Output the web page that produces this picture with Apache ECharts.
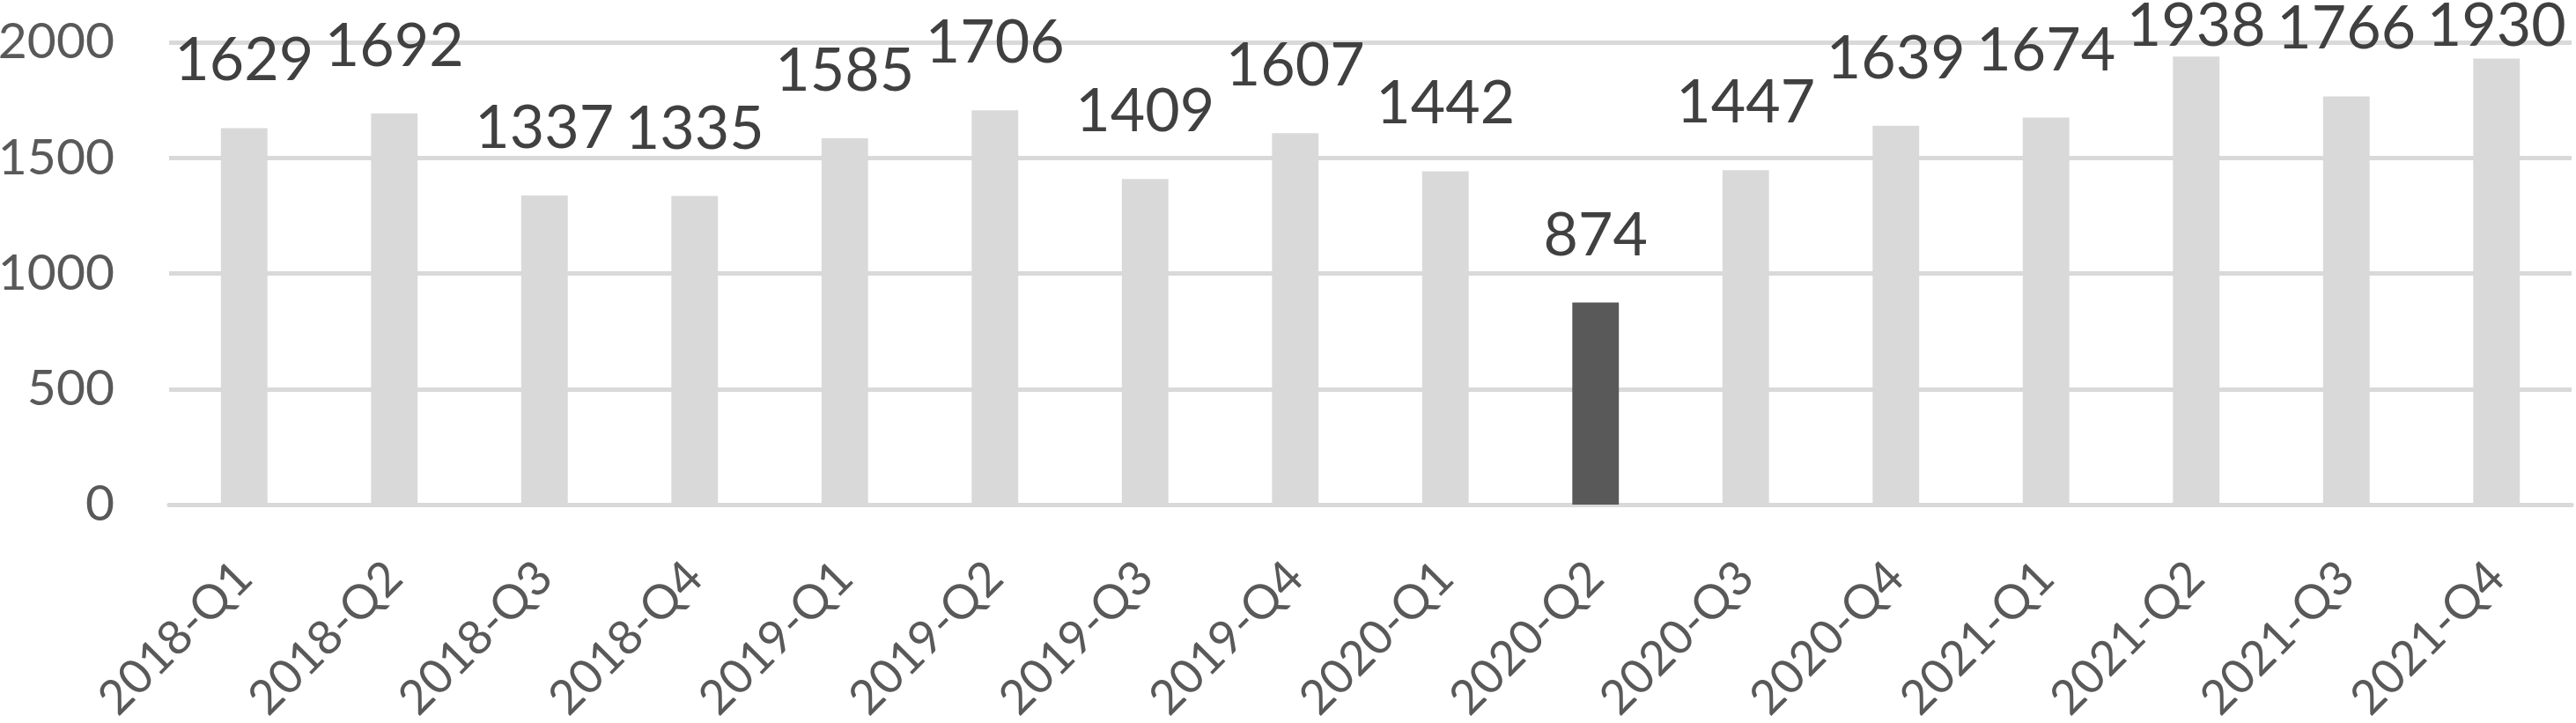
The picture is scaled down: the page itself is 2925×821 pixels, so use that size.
<!DOCTYPE html>
<html lang="en">
<head>
    <meta charset="UTF-8">
    <title>Quarterly</title>
    <script src="https://cdn.jsdelivr.net/npm/echarts@6/dist/echarts.min.js"></script>
    <style>
        html, body { margin: 0; padding: 0; background: #fff; }
        #main { width: 2925px; height: 821px; }
    </style>
</head>
<body>
<div id="main"></div>
<script type="text/javascript">
    const quarters = ['2018-Q1', '2018-Q2', '2018-Q3', '2018-Q4', '2019-Q1', '2019-Q2', '2019-Q3', '2019-Q4',
        '2020-Q1', '2020-Q2', '2020-Q3', '2020-Q4', '2021-Q1', '2021-Q2', '2021-Q3', '2021-Q4']
    const counts = [1629, 1692, 1337, 1335, 1585, 1706, 1409, 1607, 1442, 874, 1447, 1639, 1674, 1938, 1766, 1930]
    const highlight = '2020-Q2'

    // labels that would run off the top get pushed down, like excel does
    const labelMinTop = -4

    let chart = echarts.init(document.getElementById('main'))
    let option = {
        backgroundColor: '#ffffff',
        animation: false,
        grid: {left: 192, right: 5, top: 48, bottom: 248, containLabel: false, outerBoundsMode: 'none'},
        xAxis: {
            type: 'category',
            data: quarters,
            axisLine: {lineStyle: {color: '#d9d9d9', width: 5}},
            axisTick: {show: false},
            axisLabel: {
                rotate: 45,
                margin: 74,
                color: '#595959',
                fontFamily: 'Lato',
                fontSize: 54
            }
        },
        yAxis: {
            type: 'value',
            min: 0,
            max: 2000,
            interval: 500,
            axisLine: {show: false},
            axisTick: {show: false},
            splitLine: {lineStyle: {color: '#d9d9d9', width: 5}},
            axisLabel: {
                margin: 62,
                color: '#595959',
                fontFamily: 'Lato',
                fontSize: 57,
                formatter: v => String(v)
            }
        },
        series: [{
            type: 'bar',
            barWidth: '31%',
            data: counts.map((v, i) => ({
                value: v,
                itemStyle: {color: quarters[i] === highlight ? '#595959' : '#d9d9d9'}
            })),
            label: {
                show: true,
                position: 'top',
                distance: 42,
                color: '#404040',
                fontFamily: 'Lato',
                fontSize: 68
            },
            labelLayout: function (params) {
                let r = params.labelRect
                if (r.y < labelMinTop) {
                    return {dy: labelMinTop - r.y}
                }
                return {}
            }
        }]
    }
    chart.setOption(option)
</script>
</body>
</html>
